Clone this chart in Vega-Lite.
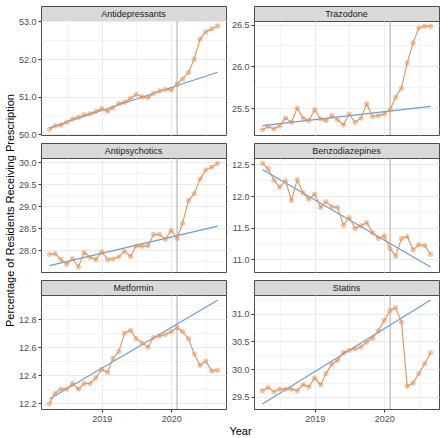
{
  "$schema": "https://vega.github.io/schema/vega-lite/v6.json",
  "padding": {"left": 3, "top": 5, "right": 3, "bottom": 3},
  "background": "white",
  "datasets": {
    "panels": [
      {"drug": "Antidepressants"}, {"drug": "Trazodone"}, {"drug": "Antipsychotics"},
      {"drug": "Benzodiazepines"}, {"drug": "Metformin"}, {"drug": "Statins"}
    ],
    "events": [{"month": "2020-02-01"}],
    "empty": [],
    "trends": [
      {"month": "2018-04-01", "Antidepressants": 50.17, "Trazodone": 25.29, "Antipsychotics": 27.65, "Benzodiazepines": 12.42, "Metformin": 12.23, "Statins": 29.37},
      {"month": "2020-09-01", "Antidepressants": 51.65, "Trazodone": 25.52, "Antipsychotics": 28.55, "Benzodiazepines": 10.88, "Metformin": 12.935, "Statins": 31.25}
    ],
    "series": [
      {"month": "2018-04-01", "Antidepressants": 50.13, "Trazodone": 25.24, "Antipsychotics": 27.91, "Benzodiazepines": 12.52, "Metformin": 12.195, "Statins": 29.61},
      {"month": "2018-05-01", "Antidepressants": 50.22, "Trazodone": 25.28, "Antipsychotics": 27.92, "Benzodiazepines": 12.43, "Metformin": 12.27, "Statins": 29.67},
      {"month": "2018-06-01", "Antidepressants": 50.24, "Trazodone": 25.25, "Antipsychotics": 27.79, "Benzodiazepines": 12.25, "Metformin": 12.30, "Statins": 29.59},
      {"month": "2018-07-01", "Antidepressants": 50.32, "Trazodone": 25.29, "Antipsychotics": 27.68, "Benzodiazepines": 12.14, "Metformin": 12.30, "Statins": 29.64},
      {"month": "2018-08-01", "Antidepressants": 50.41, "Trazodone": 25.38, "Antipsychotics": 27.81, "Benzodiazepines": 12.24, "Metformin": 12.34, "Statins": 29.64},
      {"month": "2018-09-01", "Antidepressants": 50.45, "Trazodone": 25.33, "Antipsychotics": 27.62, "Benzodiazepines": 11.93, "Metformin": 12.30, "Statins": 29.64},
      {"month": "2018-10-01", "Antidepressants": 50.52, "Trazodone": 25.50, "Antipsychotics": 27.95, "Benzodiazepines": 12.26, "Metformin": 12.34, "Statins": 29.61},
      {"month": "2018-11-01", "Antidepressants": 50.55, "Trazodone": 25.38, "Antipsychotics": 27.84, "Benzodiazepines": 12.05, "Metformin": 12.34, "Statins": 29.72},
      {"month": "2018-12-01", "Antidepressants": 50.61, "Trazodone": 25.35, "Antipsychotics": 27.79, "Benzodiazepines": 11.95, "Metformin": 12.38, "Statins": 29.68},
      {"month": "2019-01-01", "Antidepressants": 50.68, "Trazodone": 25.48, "Antipsychotics": 27.96, "Benzodiazepines": 12.03, "Metformin": 12.44, "Statins": 29.84},
      {"month": "2019-02-01", "Antidepressants": 50.61, "Trazodone": 25.37, "Antipsychotics": 27.79, "Benzodiazepines": 11.82, "Metformin": 12.42, "Statins": 29.72},
      {"month": "2019-03-01", "Antidepressants": 50.70, "Trazodone": 25.35, "Antipsychotics": 27.80, "Benzodiazepines": 11.91, "Metformin": 12.52, "Statins": 29.92},
      {"month": "2019-04-01", "Antidepressants": 50.82, "Trazodone": 25.41, "Antipsychotics": 27.85, "Benzodiazepines": 11.83, "Metformin": 12.57, "Statins": 30.09},
      {"month": "2019-05-01", "Antidepressants": 50.85, "Trazodone": 25.36, "Antipsychotics": 27.98, "Benzodiazepines": 11.82, "Metformin": 12.70, "Statins": 30.16},
      {"month": "2019-06-01", "Antidepressants": 50.95, "Trazodone": 25.30, "Antipsychotics": 27.86, "Benzodiazepines": 11.54, "Metformin": 12.72, "Statins": 30.30},
      {"month": "2019-07-01", "Antidepressants": 51.06, "Trazodone": 25.43, "Antipsychotics": 28.10, "Benzodiazepines": 11.66, "Metformin": 12.66, "Statins": 30.34},
      {"month": "2019-08-01", "Antidepressants": 50.99, "Trazodone": 25.33, "Antipsychotics": 28.09, "Benzodiazepines": 11.49, "Metformin": 12.63, "Statins": 30.37},
      {"month": "2019-09-01", "Antidepressants": 50.97, "Trazodone": 25.38, "Antipsychotics": 28.10, "Benzodiazepines": 11.53, "Metformin": 12.60, "Statins": 30.40},
      {"month": "2019-10-01", "Antidepressants": 51.09, "Trazodone": 25.55, "Antipsychotics": 28.36, "Benzodiazepines": 11.58, "Metformin": 12.67, "Statins": 30.49},
      {"month": "2019-11-01", "Antidepressants": 51.15, "Trazodone": 25.40, "Antipsychotics": 28.36, "Benzodiazepines": 11.42, "Metformin": 12.68, "Statins": 30.56},
      {"month": "2019-12-01", "Antidepressants": 51.19, "Trazodone": 25.41, "Antipsychotics": 28.25, "Benzodiazepines": 11.33, "Metformin": 12.69, "Statins": 30.69},
      {"month": "2020-01-01", "Antidepressants": 51.18, "Trazodone": 25.43, "Antipsychotics": 28.45, "Benzodiazepines": 11.37, "Metformin": 12.71, "Statins": 30.88},
      {"month": "2020-02-01", "Antidepressants": 51.33, "Trazodone": 25.48, "Antipsychotics": 28.27, "Benzodiazepines": 11.17, "Metformin": 12.74, "Statins": 31.06},
      {"month": "2020-03-01", "Antidepressants": 51.47, "Trazodone": 25.63, "Antipsychotics": 28.62, "Benzodiazepines": 11.05, "Metformin": 12.71, "Statins": 31.11},
      {"month": "2020-04-01", "Antidepressants": 51.64, "Trazodone": 25.74, "Antipsychotics": 29.13, "Benzodiazepines": 11.33, "Metformin": 12.66, "Statins": 30.85},
      {"month": "2020-05-01", "Antidepressants": 52.00, "Trazodone": 26.04, "Antipsychotics": 29.29, "Benzodiazepines": 11.36, "Metformin": 12.55, "Statins": 29.69},
      {"month": "2020-06-01", "Antidepressants": 52.53, "Trazodone": 26.28, "Antipsychotics": 29.62, "Benzodiazepines": 11.15, "Metformin": 12.47, "Statins": 29.75},
      {"month": "2020-07-01", "Antidepressants": 52.72, "Trazodone": 26.46, "Antipsychotics": 29.83, "Benzodiazepines": 11.23, "Metformin": 12.50, "Statins": 29.92},
      {"month": "2020-08-01", "Antidepressants": 52.80, "Trazodone": 26.48, "Antipsychotics": 29.89, "Benzodiazepines": 11.22, "Metformin": 12.43, "Statins": 30.10},
      {"month": "2020-09-01", "Antidepressants": 52.88, "Trazodone": 26.48, "Antipsychotics": 29.98, "Benzodiazepines": 11.08, "Metformin": 12.435, "Statins": 30.30}
    ]
  },
  "bounds": "flush",
  "columns": 2,
  "spacing": {"row": 0, "column": 28},
  "concat": [
    {"data": {"name": "panels"}, "transform": [{"filter": "datum.drug == 'Antidepressants'"}], "width": 185, "height": 15, "view": {"fill": "#d9d9d9", "stroke": "#4d4d4d"}, "mark": {"type": "text", "fontSize": 9, "color": "#1a1a1a", "font": "Liberation Sans"}, "encoding": {"text": {"field": "drug"}}},
    {"data": {"name": "panels"}, "transform": [{"filter": "datum.drug == 'Trazodone'"}], "width": 185, "height": 15, "view": {"fill": "#d9d9d9", "stroke": "#4d4d4d"}, "mark": {"type": "text", "fontSize": 9, "color": "#1a1a1a", "font": "Liberation Sans"}, "encoding": {"text": {"field": "drug"}}},
    {
      "width": 185, "height": 114,
      "encoding": {"x": {"field": "month", "type": "temporal", "scale": {"type": "utc", "domain": [{"year": 2018, "month": 2, "date": 16, "utc": true}, {"year": 2020, "month": 10, "date": 15, "utc": true}]}, "axis": {"title": null, "labels": false, "ticks": false, "values": [{"year": 2018, "month": 7, "date": 1, "utc": true}, {"year": 2019, "month": 1, "date": 1, "utc": true}, {"year": 2019, "month": 7, "date": 1, "utc": true}, {"year": 2020, "month": 1, "date": 1, "utc": true}, {"year": 2020, "month": 7, "date": 1, "utc": true}], "gridWidth": {"condition": {"test": "utcmonth(datum.value) == 6", "value": 0.5}, "value": 1}}}},
      "layer": [
        {"data": {"name": "events"}, "mark": {"type": "rule", "color": "#a8a8a8", "strokeWidth": 1}, "encoding": {}},
        {
          "encoding": {"y": {"field": "Antidepressants", "type": "quantitative", "scale": {"domain": [49.98, 53.01], "nice": false, "zero": false}, "axis": {"title": null, "format": ".1f", "labelOverlap": false, "values": [50, 50.5, 51, 51.5, 52, 52.5, 53], "labelExpr": "indexof([50.5, 51.5, 52.5], datum.value) >= 0 ? '' : datum.label", "tickOpacity": {"condition": {"test": "indexof([50.5, 51.5, 52.5], datum.value) >= 0", "value": 0}, "value": 1}, "gridWidth": {"condition": {"test": "indexof([50.5, 51.5, 52.5], datum.value) >= 0", "value": 0.5}, "value": 1}}}},
          "layer": [
            {"data": {"name": "trends"}, "mark": {"type": "line", "color": "#6a9ae0", "strokeWidth": 1.1}, "encoding": {}},
            {"data": {"name": "series"}, "mark": {"type": "line", "color": "#e0935a", "strokeWidth": 1.1}, "encoding": {}},
            {"data": {"name": "series"}, "mark": {"type": "circle", "color": "#e0935a", "opacity": 0.5, "size": 28}, "encoding": {}}
          ]
        }
      ]
    },
    {
      "width": 185, "height": 114,
      "encoding": {"x": {"field": "month", "type": "temporal", "scale": {"type": "utc", "domain": [{"year": 2018, "month": 2, "date": 16, "utc": true}, {"year": 2020, "month": 10, "date": 15, "utc": true}]}, "axis": {"title": null, "labels": false, "ticks": false, "values": [{"year": 2018, "month": 7, "date": 1, "utc": true}, {"year": 2019, "month": 1, "date": 1, "utc": true}, {"year": 2019, "month": 7, "date": 1, "utc": true}, {"year": 2020, "month": 1, "date": 1, "utc": true}, {"year": 2020, "month": 7, "date": 1, "utc": true}], "gridWidth": {"condition": {"test": "utcmonth(datum.value) == 6", "value": 0.5}, "value": 1}}}},
      "layer": [
        {"data": {"name": "events"}, "mark": {"type": "rule", "color": "#a8a8a8", "strokeWidth": 1}, "encoding": {}},
        {
          "encoding": {"y": {"field": "Trazodone", "type": "quantitative", "scale": {"domain": [25.178, 26.542], "nice": false, "zero": false}, "axis": {"title": null, "format": ".1f", "labelOverlap": false, "values": [25.25, 25.5, 25.75, 26, 26.25, 26.5], "labelExpr": "indexof([25.25, 25.75, 26.25], datum.value) >= 0 ? '' : datum.label", "tickOpacity": {"condition": {"test": "indexof([25.25, 25.75, 26.25], datum.value) >= 0", "value": 0}, "value": 1}, "gridWidth": {"condition": {"test": "indexof([25.25, 25.75, 26.25], datum.value) >= 0", "value": 0.5}, "value": 1}}}},
          "layer": [
            {"data": {"name": "trends"}, "mark": {"type": "line", "color": "#6a9ae0", "strokeWidth": 1.1}, "encoding": {}},
            {"data": {"name": "series"}, "mark": {"type": "line", "color": "#e0935a", "strokeWidth": 1.1}, "encoding": {}},
            {"data": {"name": "series"}, "mark": {"type": "circle", "color": "#e0935a", "opacity": 0.5, "size": 28}, "encoding": {}}
          ]
        }
      ]
    },
    {"data": {"name": "empty"}, "width": 185, "height": 8, "view": {"stroke": null}, "mark": "point", "encoding": {}},
    {"data": {"name": "empty"}, "width": 185, "height": 8, "view": {"stroke": null}, "mark": "point", "encoding": {}},
    {"data": {"name": "panels"}, "transform": [{"filter": "datum.drug == 'Antipsychotics'"}], "width": 185, "height": 15, "view": {"fill": "#d9d9d9", "stroke": "#4d4d4d"}, "mark": {"type": "text", "fontSize": 9, "color": "#1a1a1a", "font": "Liberation Sans"}, "encoding": {"text": {"field": "drug"}}},
    {"data": {"name": "panels"}, "transform": [{"filter": "datum.drug == 'Benzodiazepines'"}], "width": 185, "height": 15, "view": {"fill": "#d9d9d9", "stroke": "#4d4d4d"}, "mark": {"type": "text", "fontSize": 9, "color": "#1a1a1a", "font": "Liberation Sans"}, "encoding": {"text": {"field": "drug"}}},
    {
      "width": 185, "height": 114,
      "encoding": {"x": {"field": "month", "type": "temporal", "scale": {"type": "utc", "domain": [{"year": 2018, "month": 2, "date": 16, "utc": true}, {"year": 2020, "month": 10, "date": 15, "utc": true}]}, "axis": {"title": null, "labels": false, "ticks": false, "values": [{"year": 2018, "month": 7, "date": 1, "utc": true}, {"year": 2019, "month": 1, "date": 1, "utc": true}, {"year": 2019, "month": 7, "date": 1, "utc": true}, {"year": 2020, "month": 1, "date": 1, "utc": true}, {"year": 2020, "month": 7, "date": 1, "utc": true}], "gridWidth": {"condition": {"test": "utcmonth(datum.value) == 6", "value": 0.5}, "value": 1}}}},
      "layer": [
        {"data": {"name": "events"}, "mark": {"type": "rule", "color": "#a8a8a8", "strokeWidth": 1}, "encoding": {}},
        {
          "encoding": {"y": {"field": "Antipsychotics", "type": "quantitative", "scale": {"domain": [27.505, 30.1], "nice": false, "zero": false}, "axis": {"title": "Percentage of Residents Receiving Prescription", "titlePadding": 3, "titleY": 52, "format": ".1f", "labelOverlap": false, "values": [27.75, 28, 28.25, 28.5, 28.75, 29, 29.25, 29.5, 29.75, 30], "labelExpr": "indexof([27.75, 28.25, 28.75, 29.25, 29.75], datum.value) >= 0 ? '' : datum.label", "tickOpacity": {"condition": {"test": "indexof([27.75, 28.25, 28.75, 29.25, 29.75], datum.value) >= 0", "value": 0}, "value": 1}, "gridWidth": {"condition": {"test": "indexof([27.75, 28.25, 28.75, 29.25, 29.75], datum.value) >= 0", "value": 0.5}, "value": 1}}}},
          "layer": [
            {"data": {"name": "trends"}, "mark": {"type": "line", "color": "#6a9ae0", "strokeWidth": 1.1}, "encoding": {}},
            {"data": {"name": "series"}, "mark": {"type": "line", "color": "#e0935a", "strokeWidth": 1.1}, "encoding": {}},
            {"data": {"name": "series"}, "mark": {"type": "circle", "color": "#e0935a", "opacity": 0.5, "size": 28}, "encoding": {}}
          ]
        }
      ]
    },
    {
      "width": 185, "height": 114,
      "encoding": {"x": {"field": "month", "type": "temporal", "scale": {"type": "utc", "domain": [{"year": 2018, "month": 2, "date": 16, "utc": true}, {"year": 2020, "month": 10, "date": 15, "utc": true}]}, "axis": {"title": null, "labels": false, "ticks": false, "values": [{"year": 2018, "month": 7, "date": 1, "utc": true}, {"year": 2019, "month": 1, "date": 1, "utc": true}, {"year": 2019, "month": 7, "date": 1, "utc": true}, {"year": 2020, "month": 1, "date": 1, "utc": true}, {"year": 2020, "month": 7, "date": 1, "utc": true}], "gridWidth": {"condition": {"test": "utcmonth(datum.value) == 6", "value": 0.5}, "value": 1}}}},
      "layer": [
        {"data": {"name": "events"}, "mark": {"type": "rule", "color": "#a8a8a8", "strokeWidth": 1}, "encoding": {}},
        {
          "encoding": {"y": {"field": "Benzodiazepines", "type": "quantitative", "scale": {"domain": [10.8, 12.6], "nice": false, "zero": false}, "axis": {"title": null, "format": ".1f", "labelOverlap": false, "values": [11, 11.25, 11.5, 11.75, 12, 12.25, 12.5], "labelExpr": "indexof([11.25, 11.75, 12.25], datum.value) >= 0 ? '' : datum.label", "tickOpacity": {"condition": {"test": "indexof([11.25, 11.75, 12.25], datum.value) >= 0", "value": 0}, "value": 1}, "gridWidth": {"condition": {"test": "indexof([11.25, 11.75, 12.25], datum.value) >= 0", "value": 0.5}, "value": 1}}}},
          "layer": [
            {"data": {"name": "trends"}, "mark": {"type": "line", "color": "#6a9ae0", "strokeWidth": 1.1}, "encoding": {}},
            {"data": {"name": "series"}, "mark": {"type": "line", "color": "#e0935a", "strokeWidth": 1.1}, "encoding": {}},
            {"data": {"name": "series"}, "mark": {"type": "circle", "color": "#e0935a", "opacity": 0.5, "size": 28}, "encoding": {}}
          ]
        }
      ]
    },
    {"data": {"name": "empty"}, "width": 185, "height": 8, "view": {"stroke": null}, "mark": "point", "encoding": {}},
    {"data": {"name": "empty"}, "width": 185, "height": 8, "view": {"stroke": null}, "mark": "point", "encoding": {}},
    {"data": {"name": "panels"}, "transform": [{"filter": "datum.drug == 'Metformin'"}], "width": 185, "height": 15, "view": {"fill": "#d9d9d9", "stroke": "#4d4d4d"}, "mark": {"type": "text", "fontSize": 9, "color": "#1a1a1a", "font": "Liberation Sans"}, "encoding": {"text": {"field": "drug"}}},
    {"data": {"name": "panels"}, "transform": [{"filter": "datum.drug == 'Statins'"}], "width": 185, "height": 15, "view": {"fill": "#d9d9d9", "stroke": "#4d4d4d"}, "mark": {"type": "text", "fontSize": 9, "color": "#1a1a1a", "font": "Liberation Sans"}, "encoding": {"text": {"field": "drug"}}},
    {
      "width": 185, "height": 114,
      "encoding": {"x": {"field": "month", "type": "temporal", "scale": {"type": "utc", "domain": [{"year": 2018, "month": 2, "date": 16, "utc": true}, {"year": 2020, "month": 10, "date": 15, "utc": true}]}, "axis": {"title": "Year", "titleX": 199, "titlePadding": 2, "labelFlush": false, "labelOverlap": false, "values": [{"year": 2018, "month": 7, "date": 1, "utc": true}, {"year": 2019, "month": 1, "date": 1, "utc": true}, {"year": 2019, "month": 7, "date": 1, "utc": true}, {"year": 2020, "month": 1, "date": 1, "utc": true}, {"year": 2020, "month": 7, "date": 1, "utc": true}], "labelExpr": "utcmonth(datum.value) == 0 ? utcFormat(datum.value, '%Y') : ''", "tickOpacity": {"condition": {"test": "utcmonth(datum.value) == 6", "value": 0}, "value": 1}, "gridWidth": {"condition": {"test": "utcmonth(datum.value) == 6", "value": 0.5}, "value": 1}}}},
      "layer": [
        {"data": {"name": "events"}, "mark": {"type": "rule", "color": "#a8a8a8", "strokeWidth": 1}, "encoding": {}},
        {
          "encoding": {"y": {"field": "Metformin", "type": "quantitative", "scale": {"domain": [12.158, 12.972], "nice": false, "zero": false}, "axis": {"title": null, "format": ".1f", "labelOverlap": false, "values": [12.2, 12.3, 12.4, 12.5, 12.6, 12.7, 12.8, 12.9], "labelExpr": "indexof([12.3, 12.5, 12.7, 12.9], datum.value) >= 0 ? '' : datum.label", "tickOpacity": {"condition": {"test": "indexof([12.3, 12.5, 12.7, 12.9], datum.value) >= 0", "value": 0}, "value": 1}, "gridWidth": {"condition": {"test": "indexof([12.3, 12.5, 12.7, 12.9], datum.value) >= 0", "value": 0.5}, "value": 1}}}},
          "layer": [
            {"data": {"name": "trends"}, "mark": {"type": "line", "color": "#6a9ae0", "strokeWidth": 1.1}, "encoding": {}},
            {"data": {"name": "series"}, "mark": {"type": "line", "color": "#e0935a", "strokeWidth": 1.1}, "encoding": {}},
            {"data": {"name": "series"}, "mark": {"type": "circle", "color": "#e0935a", "opacity": 0.5, "size": 28}, "encoding": {}}
          ]
        }
      ]
    },
    {
      "width": 185, "height": 114,
      "encoding": {"x": {"field": "month", "type": "temporal", "scale": {"type": "utc", "domain": [{"year": 2018, "month": 2, "date": 16, "utc": true}, {"year": 2020, "month": 10, "date": 15, "utc": true}]}, "axis": {"title": null, "labelFlush": false, "labelOverlap": false, "values": [{"year": 2018, "month": 7, "date": 1, "utc": true}, {"year": 2019, "month": 1, "date": 1, "utc": true}, {"year": 2019, "month": 7, "date": 1, "utc": true}, {"year": 2020, "month": 1, "date": 1, "utc": true}, {"year": 2020, "month": 7, "date": 1, "utc": true}], "labelExpr": "utcmonth(datum.value) == 0 ? utcFormat(datum.value, '%Y') : ''", "tickOpacity": {"condition": {"test": "utcmonth(datum.value) == 6", "value": 0}, "value": 1}, "gridWidth": {"condition": {"test": "utcmonth(datum.value) == 6", "value": 0.5}, "value": 1}}}},
      "layer": [
        {"data": {"name": "events"}, "mark": {"type": "rule", "color": "#a8a8a8", "strokeWidth": 1}, "encoding": {}},
        {
          "encoding": {"y": {"field": "Statins", "type": "quantitative", "scale": {"domain": [29.28, 31.34], "nice": false, "zero": false}, "axis": {"title": null, "format": ".1f", "labelOverlap": false, "values": [29.5, 29.75, 30, 30.25, 30.5, 30.75, 31, 31.25], "labelExpr": "indexof([29.75, 30.25, 30.75, 31.25], datum.value) >= 0 ? '' : datum.label", "tickOpacity": {"condition": {"test": "indexof([29.75, 30.25, 30.75, 31.25], datum.value) >= 0", "value": 0}, "value": 1}, "gridWidth": {"condition": {"test": "indexof([29.75, 30.25, 30.75, 31.25], datum.value) >= 0", "value": 0.5}, "value": 1}}}},
          "layer": [
            {"data": {"name": "trends"}, "mark": {"type": "line", "color": "#6a9ae0", "strokeWidth": 1.1}, "encoding": {}},
            {"data": {"name": "series"}, "mark": {"type": "line", "color": "#e0935a", "strokeWidth": 1.1}, "encoding": {}},
            {"data": {"name": "series"}, "mark": {"type": "circle", "color": "#e0935a", "opacity": 0.5, "size": 28}, "encoding": {}}
          ]
        }
      ]
    }
  ],
  "config": {
    "font": "Liberation Sans",
    "view": {"stroke": "#4d4d4d", "strokeWidth": 1},
    "axis": {
      "labelFont": "Liberation Sans", "labelFontSize": 9, "labelColor": "#4d4d4d",
      "tickColor": "#333333", "tickSize": 3, "labelPadding": 2,
      "domain": false, "gridColor": "#ebebeb",
      "titleFont": "Liberation Sans", "titleFontSize": 11, "titleFontWeight": "normal", "titleColor": "#000000"
    }
  }
}
